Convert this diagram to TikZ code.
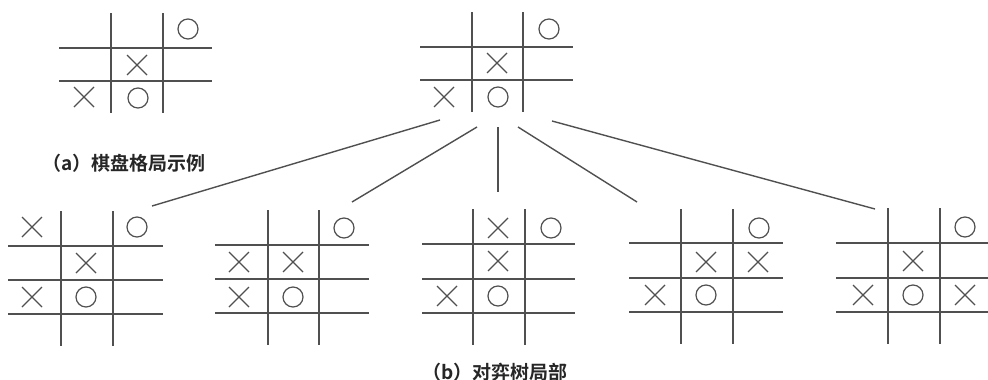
\documentclass[tikz,border=0pt]{standalone}
\usepackage{fontspec}
\newfontfamily\cjk{Noto Sans CJK SC}[BoldFont={Noto Sans CJK SC Bold}]
\definecolor{ink}{RGB}{80,80,80}
\tikzset{
  grid/.style={draw=ink, line width=1.6pt},
  sym/.style={draw=ink, line width=1.2pt},
  conn/.style={draw=ink, line width=1.4pt},
  caption/.style={font=\cjk\bfseries\fontsize{19}{21}\selectfont, text=black!85, inner sep=0pt, anchor=west},
  xmark/.pic={\draw[sym] (-10,-10) -- (10,10) (-10,10) -- (10,-10);},
  omark/.pic={\draw[sym] (0,0) circle (10);}
}
\begin{document}
\begin{tikzpicture}[x=1pt,y=-1pt]
\useasboundingbox (0,0) rectangle (988,380);
% board (a)
\draw[grid] (59,48) -- (212,48) (59,81) -- (212,81) (111,13) -- (111,113) (163,13) -- (163,113);
\pic at (188,29) {omark}; \pic at (137,65) {xmark}; \pic at (84,97) {xmark}; \pic at (138,98) {omark};
\node[caption] (capa) at (42,163) {（a）棋盘格局示例};
% root board
\draw[grid] (420,47) -- (573,47) (420,80) -- (573,80) (472,12) -- (472,112) (523,12) -- (523,112);
\pic at (549,29) {omark}; \pic at (497,63) {xmark}; \pic at (444,97) {xmark}; \pic at (498,97) {omark};
% board 1
\draw[grid] (8,246) -- (163,246) (8,280) -- (163,280) (8,314) -- (163,314) (61,211) -- (61,346) (113,211) -- (113,346);
\pic at (32,227) {xmark}; \pic at (137,227) {omark}; \pic at (86,263) {xmark}; \pic at (32,297) {xmark}; \pic at (86,297) {omark};
% board 2
\draw[grid] (215,245) -- (369,245) (215,279) -- (369,279) (215,313) -- (369,313) (268,210) -- (268,345) (319,210) -- (319,345);
\pic at (344,228) {omark}; \pic at (239,262) {xmark}; \pic at (293,262) {xmark}; \pic at (239,297) {xmark}; \pic at (293,297) {omark};
% board 3
\draw[grid] (422,244) -- (575,244) (422,279) -- (575,279) (422,313) -- (575,313) (473,209) -- (473,345) (525,209) -- (525,345);
\pic at (498,228) {xmark}; \pic at (551,228) {omark}; \pic at (498,261) {xmark}; \pic at (447,296) {xmark}; \pic at (498,296) {omark};
% board 4
\draw[grid] (629,243) -- (783,243) (629,278) -- (783,278) (629,312) -- (783,312) (681,209) -- (681,344) (733,209) -- (733,344);
\pic at (759,228) {omark}; \pic at (706,262) {xmark}; \pic at (758,262) {xmark}; \pic at (655,295) {xmark}; \pic at (706,295) {omark};
% board 5
\draw[grid] (836,243) -- (992,243) (836,278) -- (992,278) (836,312) -- (992,312) (888,208) -- (888,344) (940,208) -- (940,344);
\pic at (965,227) {omark}; \pic at (913,261) {xmark}; \pic at (863,295) {xmark}; \pic at (913,295) {omark}; \pic at (965,295) {xmark};
\node[caption] (capb) at (422,372) {（b）对弈树局部};
% connectors
\coordinate (r1) at (440,120); \coordinate (c1) at (152,206);
\coordinate (r2) at (477,127); \coordinate (c2) at (352,202);
\coordinate (r3) at (498,127); \coordinate (c3) at (498,192);
\coordinate (r4) at (518,127); \coordinate (c4) at (637,202);
\coordinate (r5) at (552,121); \coordinate (c5) at (875,209);
\draw[conn] (r1) -- (c1);
\draw[conn] (r2) -- (c2);
\draw[conn] (r3) -- (c3);
\draw[conn] (r4) -- (c4);
\draw[conn] (r5) -- (c5);
\end{tikzpicture}
\end{document}
